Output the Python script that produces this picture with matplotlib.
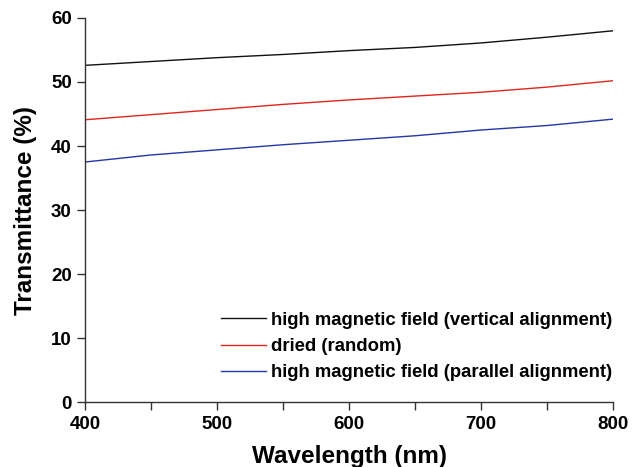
import matplotlib.pyplot as plt
import numpy as np

plt.rcParams['font.family'] = ['Liberation Sans', 'DejaVu Sans']
plt.rcParams['font.weight'] = 'bold'

wavelength = [400, 450, 500, 550, 600, 650, 700, 750, 800]
vertical = [52.6, 53.2, 53.8, 54.3, 54.9, 55.4, 56.1, 57.0, 58.0]
dried = [44.1, 44.9, 45.7, 46.5, 47.2, 47.8, 48.4, 49.2, 50.2]
parallel = [37.5, 38.6, 39.4, 40.2, 40.9, 41.6, 42.5, 43.2, 44.2]

labels = ["high magnetic field (vertical alignment)",
          "dried (random)",
          "high magnetic field (parallel alignment)"]
colors = ["#111111", "#e3241e", "#2437a6"]

fig = plt.figure(figsize=(6.32, 4.67), dpi=100)
ax = fig.add_axes([0.1345, 0.139, 0.8355, 0.8225])

for y, lab, c in zip([vertical, dried, parallel], labels, colors):
    ax.plot(wavelength, y, color=c, lw=1.0, label=lab)

ax.set_xlim(400, 800)
ax.set_ylim(0, 60)
ax.set_xticks([400, 500, 600, 700, 800])
ax.set_xticks([450, 550, 650, 750], minor=True)
ax.set_yticks(np.arange(0, 61, 10))
ax.spines['top'].set_visible(False)
ax.spines['right'].set_visible(False)
for s in ['left', 'bottom']:
    ax.spines[s].set_color('#333333')
    ax.spines[s].set_linewidth(1.0)
ax.tick_params(axis='both', which='both', direction='out', length=6, width=1,
               color='#333333', labelsize=13.5)
ax.tick_params(axis='x', pad=4)

ax.set_xlabel("Wavelength (nm)", fontsize=17.5, fontweight='bold', labelpad=9)
ax.set_ylabel("Transmittance (%)", fontsize=17.5, fontweight='bold', labelpad=10)

ax.legend(loc='lower right', bbox_to_anchor=(1.013, 0.035), frameon=False,
          fontsize=13.3, handlelength=2.4, handletextpad=0.3, labelspacing=0.5,
          borderaxespad=0)

plt.savefig("out.png", dpi=100)
